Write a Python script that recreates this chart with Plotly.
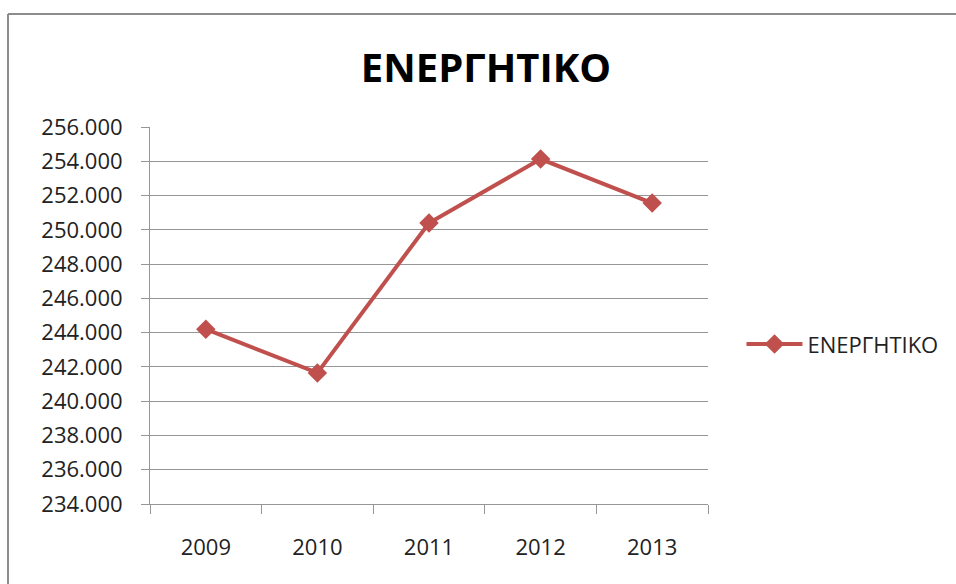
import plotly.graph_objects as go

# data
years = ["2009", "2010", "2011", "2012", "2013"]
energitiko = [244200, 241650, 250400, 254130, 251560]
series_name = "ΕΝΕΡΓΗΤΙΚΟ"

RED = "#C0504D"
GRID = "#969696"
FONT = "Open Sans"

W, H = 956, 584
L, T = 150, 127
PW, PH = 558, 377

fig = go.Figure()
fig.add_trace(go.Scatter(
    x = years, y = energitiko, name = series_name,
    mode = "lines+markers",
    line = dict(color = RED, width = 4),
    marker = dict(symbol = "diamond", size = 15, color = RED)))

fig.update_layout(
    width = W, height = H,
    paper_bgcolor = "white", plot_bgcolor = "white",
    separators = ",.",
    margin = dict(l = L, r = W - L - PW, t = T, b = H - T - PH, pad = 0, autoexpand = False),
    font = dict(family = FONT, size = 20, color = "#222222"),
    title = dict(text = "<b>ΕΝΕΡΓΗΤΙΚΟ</b>", xref = "container", x = 486 / W, xanchor = "center",
                 yref = "container", y = 1 - 68 / H, yanchor = "middle",
                 font = dict(family = FONT, size = 40, color = "black")),
    showlegend = True,
    legend = dict(x = 1.06, xanchor = "left", y = 0.424, yanchor = "middle", itemwidth = 56,
                  font = dict(size = 22, color = "#222222"), bgcolor = "rgba(0,0,0,0)"),
    xaxis = dict(type = "category", range = [-0.5, 4.5], showgrid = False,
                 showline = True, linecolor = GRID, linewidth = 1,
                 ticks = "outside", tickson = "boundaries", ticklen = 9, tickcolor = GRID,
                 tickfont = dict(size = 22), ticklabelstandoff = 24),
    yaxis = dict(range = [234000, 256000], dtick = 2000, tickformat = ",d",
                 showgrid = True, gridcolor = GRID, gridwidth = 1,
                 showline = True, linecolor = GRID, linewidth = 1,
                 ticks = "outside", ticklen = 8, tickcolor = GRID,
                 tickfont = dict(size = 22), ticklabelstandoff = 14, zeroline = False))

# outer chart frame (only left and top edges are inside the picture)
frame_x = (8 - L) / PW
frame_y = 1 + (T - 14) / PH
fig.add_shape(type = "line", xref = "paper", yref = "paper",
              x0 = frame_x, x1 = 1.6, y0 = frame_y, y1 = frame_y,
              line = dict(color = "#8C8C8C", width = 2))
fig.add_shape(type = "line", xref = "paper", yref = "paper",
              x0 = frame_x, x1 = frame_x, y0 = -0.4, y1 = frame_y,
              line = dict(color = "#8C8C8C", width = 2))

# no page margin / scrollbars so the figure fills the window exactly
fig.write_html("out.html", config = {"displayModeBar": False},
               post_script = "document.body.style.margin='0';document.body.style.overflow='hidden';")
